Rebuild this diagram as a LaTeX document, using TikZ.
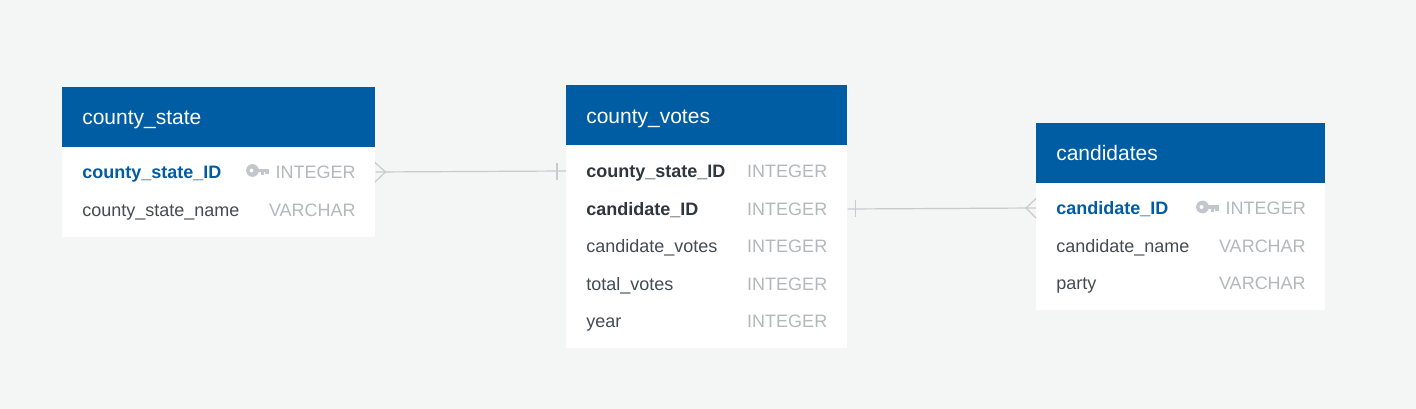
\documentclass[tikz,border=0pt]{standalone}
\usepackage{fontspec}
\setmainfont{Liberation Sans}
\definecolor{bgc}{HTML}{F4F6F6}
\definecolor{hdr}{HTML}{005DA3}
\definecolor{txt}{HTML}{454B52}
\definecolor{strong}{HTML}{2F363D}
\definecolor{typec}{HTML}{B4B8BD}
\definecolor{keyc}{HTML}{C2C7CD}
\definecolor{linec}{HTML}{C8CBCB}
\tikzset{
  x=0.75pt,y=-0.75pt,
  hdrbox/.style={fill=hdr,draw=none,inner sep=0pt,anchor=north west},
  bodybox/.style={fill=white,draw=none,inner sep=0pt,anchor=north west},
  title/.style={text=white,font=\fontsize{15.75pt}{18pt}\selectfont,anchor=base west,inner sep=0pt},
  col/.style={text=txt,font=\fontsize{13.5pt}{16pt}\selectfont,anchor=base west,inner sep=0pt},
  fkcol/.style={text=strong,font=\bfseries\fontsize{13.5pt}{16pt}\selectfont,anchor=base west,inner sep=0pt},
  pkcol/.style={text=hdr,font=\bfseries\fontsize{13.5pt}{16pt}\selectfont,anchor=base west,inner sep=0pt},
  typ/.style={text=typec,font=\fontsize{13.5pt}{16pt}\selectfont,anchor=base east,inner sep=0pt},
  rel/.style={draw=linec,line width=0.9pt},
}
\newcommand{\keyicon}[2]{%
  \fill[keyc,even odd rule] (#1+6.5,#2) circle[radius=6.4] (#1+5.5,#2) circle[radius=2.1];
  \fill[keyc] (#1+11,#2-1.8) rectangle (#1+23,#2+2);
  \fill[keyc] (#1+14.5,#2) rectangle (#1+18,#2+4.6);
  \fill[keyc] (#1+19.2,#2) rectangle (#1+23,#2+4);
}
\begin{document}
\begin{tikzpicture}
\useasboundingbox[fill=bgc] (0,0) rectangle (1416,409);
% county_state
\node[bodybox,minimum width=313*0.75pt,minimum height=150*0.75pt] (csbody) at (62,86.500) {};
\node[hdrbox,minimum width=313*0.75pt,minimum height=60*0.75pt] (cshead) at (62,86.500) {};
\node[title] (cst) at (82,124.500) {county\_state};
\node[pkcol] (cs1) at (82,178.500) {county\_state\_ID};
\node[typ] (cs1t) at (356,178.500) {INTEGER};
\node[col] (cs2) at (82,216.500) {county\_state\_name};
\node[typ] (cs2t) at (356,216.500) {VARCHAR};
\keyicon{246}{170.500}
% county_votes
\node[bodybox,minimum width=281*0.75pt,minimum height=263*0.75pt] (cvbody) at (566,85) {};
\node[hdrbox,minimum width=281*0.75pt,minimum height=60*0.75pt] (cvhead) at (566,85) {};
\node[title] (cvt) at (586,123.500) {county\_votes};
\node[fkcol] (cv1) at (586,177.500) {county\_state\_ID};
\node[typ] (cv1t) at (827.500,177.500) {INTEGER};
\node[fkcol] (cv2) at (586,215.500) {candidate\_ID};
\node[typ] (cv2t) at (827.500,215.500) {INTEGER};
\node[col] (cv3) at (586,252.500) {candidate\_votes};
\node[typ] (cv3t) at (827.500,252.500) {INTEGER};
\node[col] (cv4) at (586,290.500) {total\_votes};
\node[typ] (cv4t) at (827.500,290.500) {INTEGER};
\node[col] (cv5) at (586,327.500) {year};
\node[typ] (cv5t) at (827.500,327.500) {INTEGER};
% candidates
\node[bodybox,minimum width=289*0.75pt,minimum height=187.500*0.75pt] (cabody) at (1036,122.500) {};
\node[hdrbox,minimum width=289*0.75pt,minimum height=60*0.75pt] (cahead) at (1036,122.500) {};
\node[title] (cat) at (1056,160.500) {candidates};
\node[pkcol] (ca1) at (1056,214.500) {candidate\_ID};
\node[typ] (ca1t) at (1306,214.500) {INTEGER};
\node[col] (ca2) at (1056,252.500) {candidate\_name};
\node[typ] (ca2t) at (1306,252.500) {VARCHAR};
\node[col] (ca3) at (1056,290) {party};
\node[typ] (ca3t) at (1306,290) {VARCHAR};
\keyicon{1196}{207}
% relationship 1
\coordinate (r1a) at (csbody.north east |- 0,172);
\coordinate (r1b) at (cvbody.north west |- 0,171);
\draw[rel] (r1a) -- (r1b);
\draw[rel] (375,162.500) -- (385.500,172) -- (375,182);
\draw[rel] (557,163) -- (557,180);
% relationship 2
\coordinate (r2a) at (cvbody.north east |- 0,209);
\coordinate (r2b) at (cabody.north west |- 0,208);
\draw[rel] (r2a) -- (r2b);
\draw[rel] (855.500,200) -- (855.500,217);
\draw[rel] (1036,198.500) -- (1026,208) -- (1036,218);
\end{tikzpicture}
\end{document}
